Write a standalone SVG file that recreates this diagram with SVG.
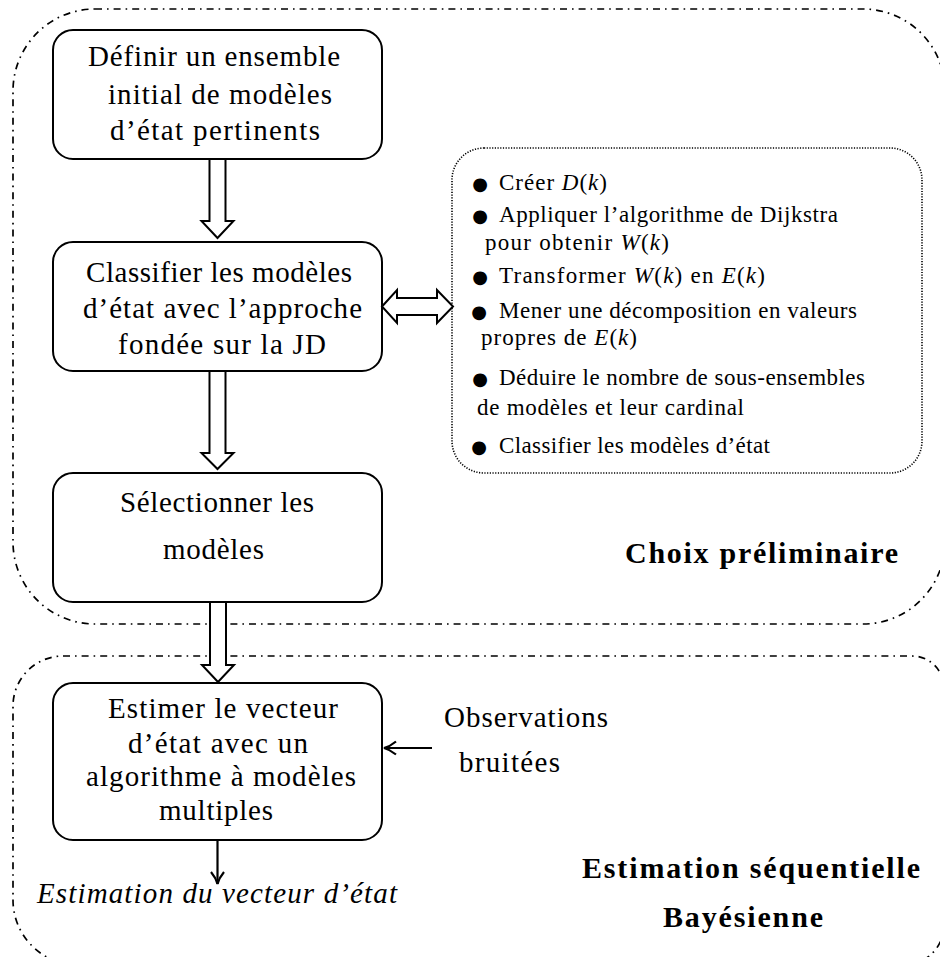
<svg xmlns="http://www.w3.org/2000/svg" width="940" height="957" viewBox="0 0 940 957">
<style>
.region{fill:none;stroke:#000;stroke-width:1.7;stroke-dasharray:7 5 1.6 5}
.dotted{fill:none;stroke:#000;stroke-width:1.6;stroke-dasharray:1.2 1.5}
.node rect{fill:#fff;stroke:#000;stroke-width:2}
.t{font-family:"Liberation Serif","Times New Roman",serif;font-size:29px;fill:#000;text-anchor:middle}
.b{font-family:"Liberation Serif","Times New Roman",serif;font-size:23px;fill:#000}
.bul{font-family:"DejaVu Sans",sans-serif;font-size:18px;fill:#000;text-anchor:middle}
.lab{font-family:"Liberation Serif","Times New Roman",serif;font-size:30px;font-weight:bold;fill:#000;text-anchor:middle}
.it{font-style:italic}
.hollow{fill:#fff;stroke:#000;stroke-width:2;stroke-linejoin:miter}
.thin{fill:none;stroke:#000;stroke-width:2.2}
</style>
<defs>
<marker id="vhead" viewBox="0 0 16 16" refX="14" refY="8" markerWidth="16" markerHeight="16" markerUnits="userSpaceOnUse" orient="auto">
<path d="M2,1.5 Q8,6.5 14,8 Q8,9.5 2,14.5" fill="none" stroke="#000" stroke-width="2.2"/>
</marker>
</defs>

<g id="regions">
<g id="region-choix">
<rect class="region" x="13" y="9" width="932" height="615" rx="82" ry="82"/>
<text class="lab" x="761.5" y="563" textLength="273" lengthAdjust="spacing">Choix préliminaire</text>
</g>
<g id="region-estimation">
<path class="region" d="M63,656 L912,656 A32,32 0 0 1 944,688 L944,925 A40,40 0 0 1 904,965 L78,965 A65,65 0 0 1 13,900 L13,706 A50,50 0 0 1 63,656 Z"/>
<text class="lab" x="751" y="878" textLength="338" lengthAdjust="spacing">Estimation séquentielle</text>
<text class="lab" x="743" y="927" textLength="160" lengthAdjust="spacing">Bayésienne</text>
</g>
</g>

<g id="n1" class="node">
<rect x="53" y="30" width="329" height="129" rx="20" ry="20"/>
<text class="t" x="214" y="66" textLength="252" lengthAdjust="spacing">Définir un ensemble</text>
<text class="t" x="220" y="104" textLength="224" lengthAdjust="spacing">initial de modèles</text>
<text class="t" x="215" y="140" textLength="210" lengthAdjust="spacing">d’état pertinents</text>
</g>

<g id="n2" class="node">
<rect x="53" y="242" width="329" height="129" rx="20" ry="20"/>
<text class="t" x="219" y="282" textLength="266" lengthAdjust="spacing">Classifier les modèles</text>
<text class="t" x="222.5" y="318" textLength="279" lengthAdjust="spacing">d’état avec l’approche</text>
<text class="t" x="222" y="354" textLength="208" lengthAdjust="spacing">fondée sur la JD</text>
</g>

<g id="n3" class="node">
<rect x="53" y="473" width="329" height="129" rx="20" ry="20"/>
<text class="t" x="217" y="512" textLength="194" lengthAdjust="spacing">Sélectionner les</text>
<text class="t" x="213.5" y="559" textLength="101" lengthAdjust="spacing">modèles</text>
</g>

<g id="n4" class="node">
<rect x="53" y="683" width="329" height="157" rx="20" ry="20"/>
<text class="t" x="223" y="718" textLength="230" lengthAdjust="spacing">Estimer le vecteur</text>
<text class="t" x="218" y="753" textLength="180" lengthAdjust="spacing">d’état avec un</text>
<text class="t" x="221" y="786" textLength="270" lengthAdjust="spacing">algorithme à modèles</text>
<text class="t" x="216" y="820" textLength="114" lengthAdjust="spacing">multiples</text>
</g>

<g id="n5" class="node">
<rect class="dotted" x="452" y="148" width="470" height="325" rx="32" ry="32" style="fill:none;stroke-width:1.6"/>
<text class="bul" x="480" y="190">●</text>
<text class="b" x="499" y="190" textLength="108" lengthAdjust="spacing">Créer <tspan class="it">D</tspan>(<tspan class="it">k</tspan>)</text>
<text class="bul" x="480" y="222">●</text>
<text class="b" x="499" y="222" textLength="339" lengthAdjust="spacing">Appliquer l’algorithme de Dijkstra</text>
<text class="b" x="485" y="250" textLength="184" lengthAdjust="spacing">pour obtenir <tspan class="it">W</tspan>(<tspan class="it">k</tspan>)</text>
<text class="bul" x="480" y="283">●</text>
<text class="b" x="499" y="283" textLength="266" lengthAdjust="spacing">Transformer <tspan class="it">W</tspan>(<tspan class="it">k</tspan>) en <tspan class="it">E</tspan>(<tspan class="it">k</tspan>)</text>
<text class="bul" x="479" y="318">●</text>
<text class="b" x="499" y="318" textLength="358" lengthAdjust="spacing">Mener une décomposition en valeurs</text>
<text class="b" x="481" y="345" textLength="156" lengthAdjust="spacing">propres de <tspan class="it">E</tspan>(<tspan class="it">k</tspan>)</text>
<text class="bul" x="480" y="385">●</text>
<text class="b" x="499" y="385" textLength="366" lengthAdjust="spacing">Déduire le nombre de sous-ensembles</text>
<text class="b" x="477" y="415" textLength="267" lengthAdjust="spacing">de modèles et leur cardinal</text>
<text class="bul" x="479" y="453">●</text>
<text class="b" x="499" y="453" textLength="271" lengthAdjust="spacing">Classifier les modèles d’état</text>
</g>

<g id="obs">
<text class="t" x="526" y="727" textLength="164" lengthAdjust="spacing">Observations</text>
<text class="t" x="509.5" y="772" textLength="101" lengthAdjust="spacing">bruitées</text>
</g>

<g id="out">
<text class="t it" x="217" y="903" textLength="360" lengthAdjust="spacing">Estimation du vecteur d’état</text>
</g>

<g id="connectors">
<path class="hollow" d="M209.5,159 L209.5,221 L201.5,221 L217.5,238 L233.5,221 L225.5,221 L225.5,159 Z"/>
<path class="hollow" d="M209.5,371 L209.5,453 L201.5,453 L217.5,469 L233.5,453 L225.5,453 L225.5,371 Z"/>
<path class="hollow" d="M210,602 L210,665 L202,665 L218,682 L234,665 L226,665 L226,602 Z"/>
<path class="hollow" d="M382,306.5 L397,290 L397,298 L437,298 L437,290 L453,306.5 L437,323 L437,315 L397,315 L397,323 Z"/>
<line class="thin" x1="217.5" y1="840" x2="217.5" y2="884" marker-end="url(#vhead)"/>
<line class="thin" x1="432" y1="748" x2="384" y2="748" marker-end="url(#vhead)"/>
</g>
</svg>
